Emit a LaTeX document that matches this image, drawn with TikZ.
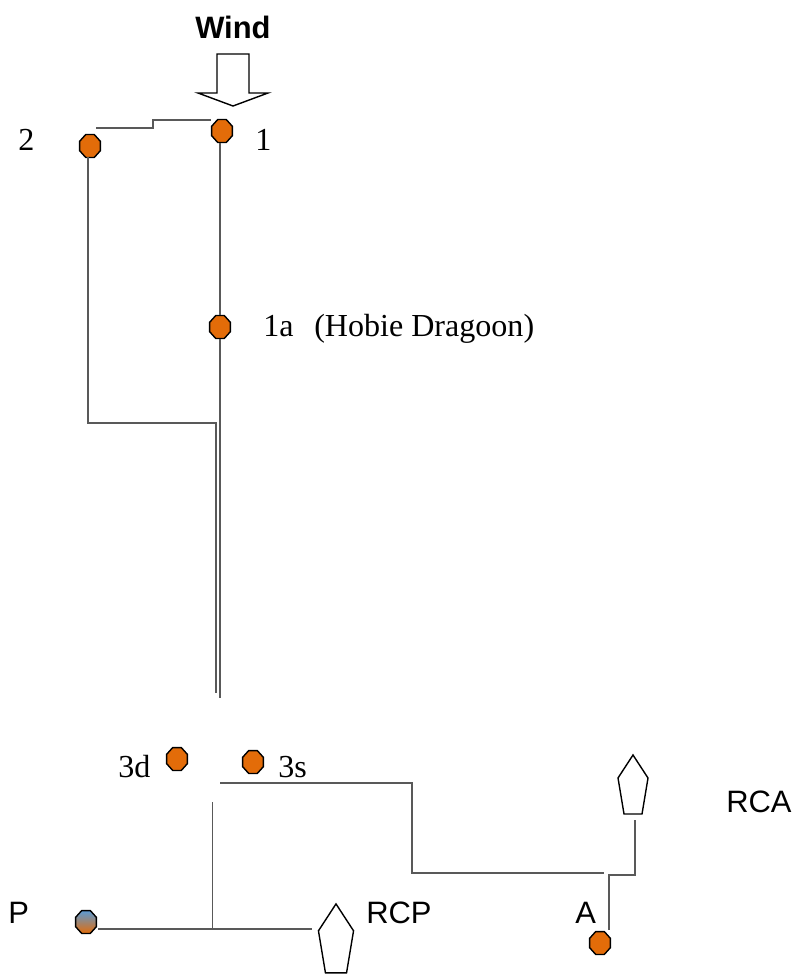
\documentclass[tikz,border=0pt]{standalone}
\usepackage{fontspec}
\setmainfont{Liberation Serif}
\setsansfont{Liberation Sans}
\usetikzlibrary{shapes.geometric}

\definecolor{buoyorange}{HTML}{E36C09}
\definecolor{buoyblue}{HTML}{5B9BD5}
\definecolor{legline}{gray}{0.35}

\begin{document}
\begin{tikzpicture}[
    x=0.025cm, y=-0.025cm,
    buoy/.style={regular polygon, regular polygon sides=8, transform shape, xscale=0.9, draw=black, line width=1pt, fill=buoyorange, minimum size=0.62cm, inner sep=0pt},
    leg/.style={draw=legline, line width=0.75pt},
    serifnum/.style={anchor=base west, inner sep=0pt, font=\fontsize{22.8}{24}\selectfont},
    sanslabel/.style={anchor=base west, inner sep=0pt, font=\sffamily\fontsize{22}{24}\selectfont},
    mark/.pic={\draw[line width=1pt] (0,-30) -- (15,-7) -- (9,29) -- (-9,29) -- (-15,-7) -- cycle;}
]
\useasboundingbox (0,0) rectangle (799,974);

% Wind
\node[sanslabel, font=\sffamily\bfseries\fontsize{22}{24}\selectfont] (wind) at (195,38) {Wind};
\draw[line width=1pt] (217,54) -- (249,54) -- (249,93) -- (268,93) -- (233,106) -- (198,93) -- (217,93) -- cycle;

% Buoys
\node[buoy] (n1) at (222,131) {};
\node[buoy] (n2) at (90,146) {};
\node[buoy] (n1a) at (220,327) {};
\node[buoy] (n3d) at (177,759) {};
\node[buoy] (n3s) at (253,762) {};
\node[buoy, top color=buoyblue, bottom color=buoyorange] (nP) at (86,922) {};
\node[buoy] (nA) at (600,943) {};

% Free ends of the legs
\coordinate (a1) at (96,128);
\coordinate (a2) at (211,120);
\coordinate (b1) at (88,157);
\coordinate (b2) at (216,693);
\coordinate (c1) at (220,143);
\coordinate (c2) at (220,698);
\coordinate (d1) at (220,783);
\coordinate (d2) at (604,873);
\coordinate (e1) at (635,820);
\coordinate (e2) at (609,930);
\coordinate (f1) at (212.6,802);
\coordinate (f2) at (212.6,929);
\coordinate (g1) at (98,929);
\coordinate (g2) at (312,929);

% Legs
\draw[leg] (a1) -- (153,128) -- (153,120) -- (a2);
\draw[leg] (b1) -- (88,423) -- (216,423) -- (b2);
\draw[leg] (c1) -- (n1a.north -| c1);
\draw[leg] (n1a.south -| c1) -- (c2);
\draw[leg] (d1) -- (412,783) -- (412,873) -- (d2);
\draw[leg] (e1) -- (635,875) -- (609,875) -- (e2);
\draw[leg] (f1) -- (f2);
\draw[leg] (g1) -- (g2);

% Marks
\pic[scale=1.17] (rcp) at (336,939) {mark};
\pic (rca) at (633,785) {mark};

% Labels
\node[serifnum] (l2) at (18,150) {2};
\node[serifnum] (l1) at (255,150) {1};
\node[serifnum] (l1a) at (263,336) {1a};
\node[serifnum] (lhobie) at (314,336) {(Hobie Dragoon)};
\node[serifnum] (l3d) at (118,777) {3d};
\node[serifnum] (l3s) at (278,777) {3s};
\node[sanslabel] (lP) at (8,923) {P};
\node[sanslabel] (lRCP) at (366,923) {RCP};
\node[sanslabel] (lA) at (575,923) {A};
\node[sanslabel] (lRCA) at (726,812) {RCA};

\end{tikzpicture}
\end{document}
